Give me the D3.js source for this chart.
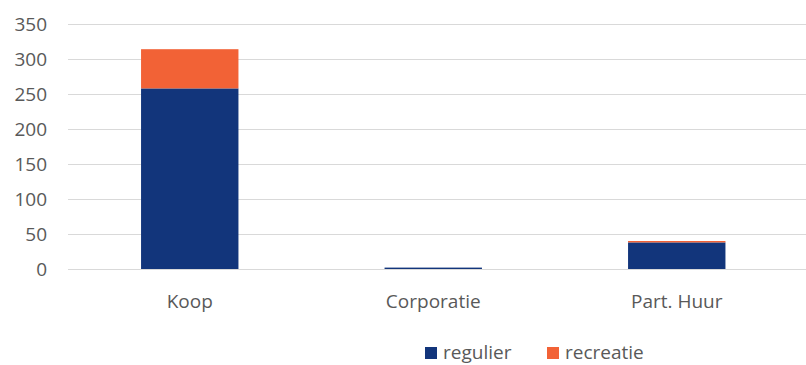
<!DOCTYPE html>
<html>
<head>
<meta charset="utf-8">
<script src="https://cdn.jsdelivr.net/npm/d3@7"></script>
<style>
  body { margin: 0; background: #fff; }
  svg text { font-family: "Open Sans", sans-serif; fill: #595959; }
</style>
</head>
<body>
<svg id="chart" width="806" height="365"></svg>
<script>
// data
const categories = ['Koop', 'Corporatie', 'Part. Huur'];
const regulier = [258, 2, 38];
const recreatie = [56, 0, 2];
const seriesNames = ['regulier', 'recreatie'];
const seriesColors = ['#12357b', '#f26236'];
const yTicks = [0, 50, 100, 150, 200, 250, 300, 350];

const svg = d3.select('#chart');

let rows = categories.map((c, i) => ({cat: c, regulier: regulier[i], recreatie: recreatie[i]}));
let stacked = d3.stack().keys(seriesNames)(rows);

let xscale = d3.scaleBand()
    .domain(categories)
    .range([68, 798.5])
    .paddingInner(0.6)
    .paddingOuter(0.3);

let yscale = d3.scaleLinear()
    .domain([0, 350])
    .range([269, 24]);

// gridlines
svg.append('g')
    .selectAll('line')
    .data(yTicks)
    .join('line')
    .attr('x1', 68)
    .attr('x2', 806)
    .attr('y1', d => yscale(d) + 0.5)
    .attr('y2', d => yscale(d) + 0.5)
    .attr('stroke', '#d9d9d9')
    .attr('stroke-width', 1);

// y axis labels
let yaxis = d3.axisLeft(yscale).tickValues(yTicks).tickSize(0).tickPadding(0);
let yg = svg.append('g')
    .attr('transform', 'translate(47, 0)')
    .call(yaxis);
yg.select('.domain').remove();
yg.selectAll('text')
    .style('font-size', '19px')
    .attr('fill', '#595959')
    .attr('dy', '0.34em');

// bars
svg.append('g')
    .selectAll('g')
    .data(stacked)
    .join('g')
    .attr('fill', (d, i) => seriesColors[i])
    .selectAll('rect')
    .data(d => d)
    .join('rect')
    .attr('x', d => xscale(d.data.cat))
    .attr('width', xscale.bandwidth())
    .attr('y', d => yscale(d[1]))
    .attr('height', d => yscale(d[0]) - yscale(d[1]));

// x axis labels
let xaxis = d3.axisBottom(xscale).tickSize(0).tickPadding(0);
let xg = svg.append('g')
    .attr('transform', 'translate(0, 290)')
    .call(xaxis);
xg.select('.domain').remove();
xg.selectAll('text')
    .style('font-size', '19px')
    .attr('fill', '#595959')
    .attr('dy', '0.95em');

// legend
let legendX = [425, 547];
let legend = svg.append('g')
    .selectAll('g')
    .data(seriesNames)
    .join('g')
    .attr('transform', (d, i) => `translate(${legendX[i]}, 347)`);
legend.append('rect')
    .attr('width', 12)
    .attr('height', 12)
    .attr('fill', (d, i) => seriesColors[i]);
legend.append('text')
    .attr('x', 18)
    .attr('y', 12)
    .style('font-size', '19px')
    .text(d => d);
</script>
</body>
</html>
